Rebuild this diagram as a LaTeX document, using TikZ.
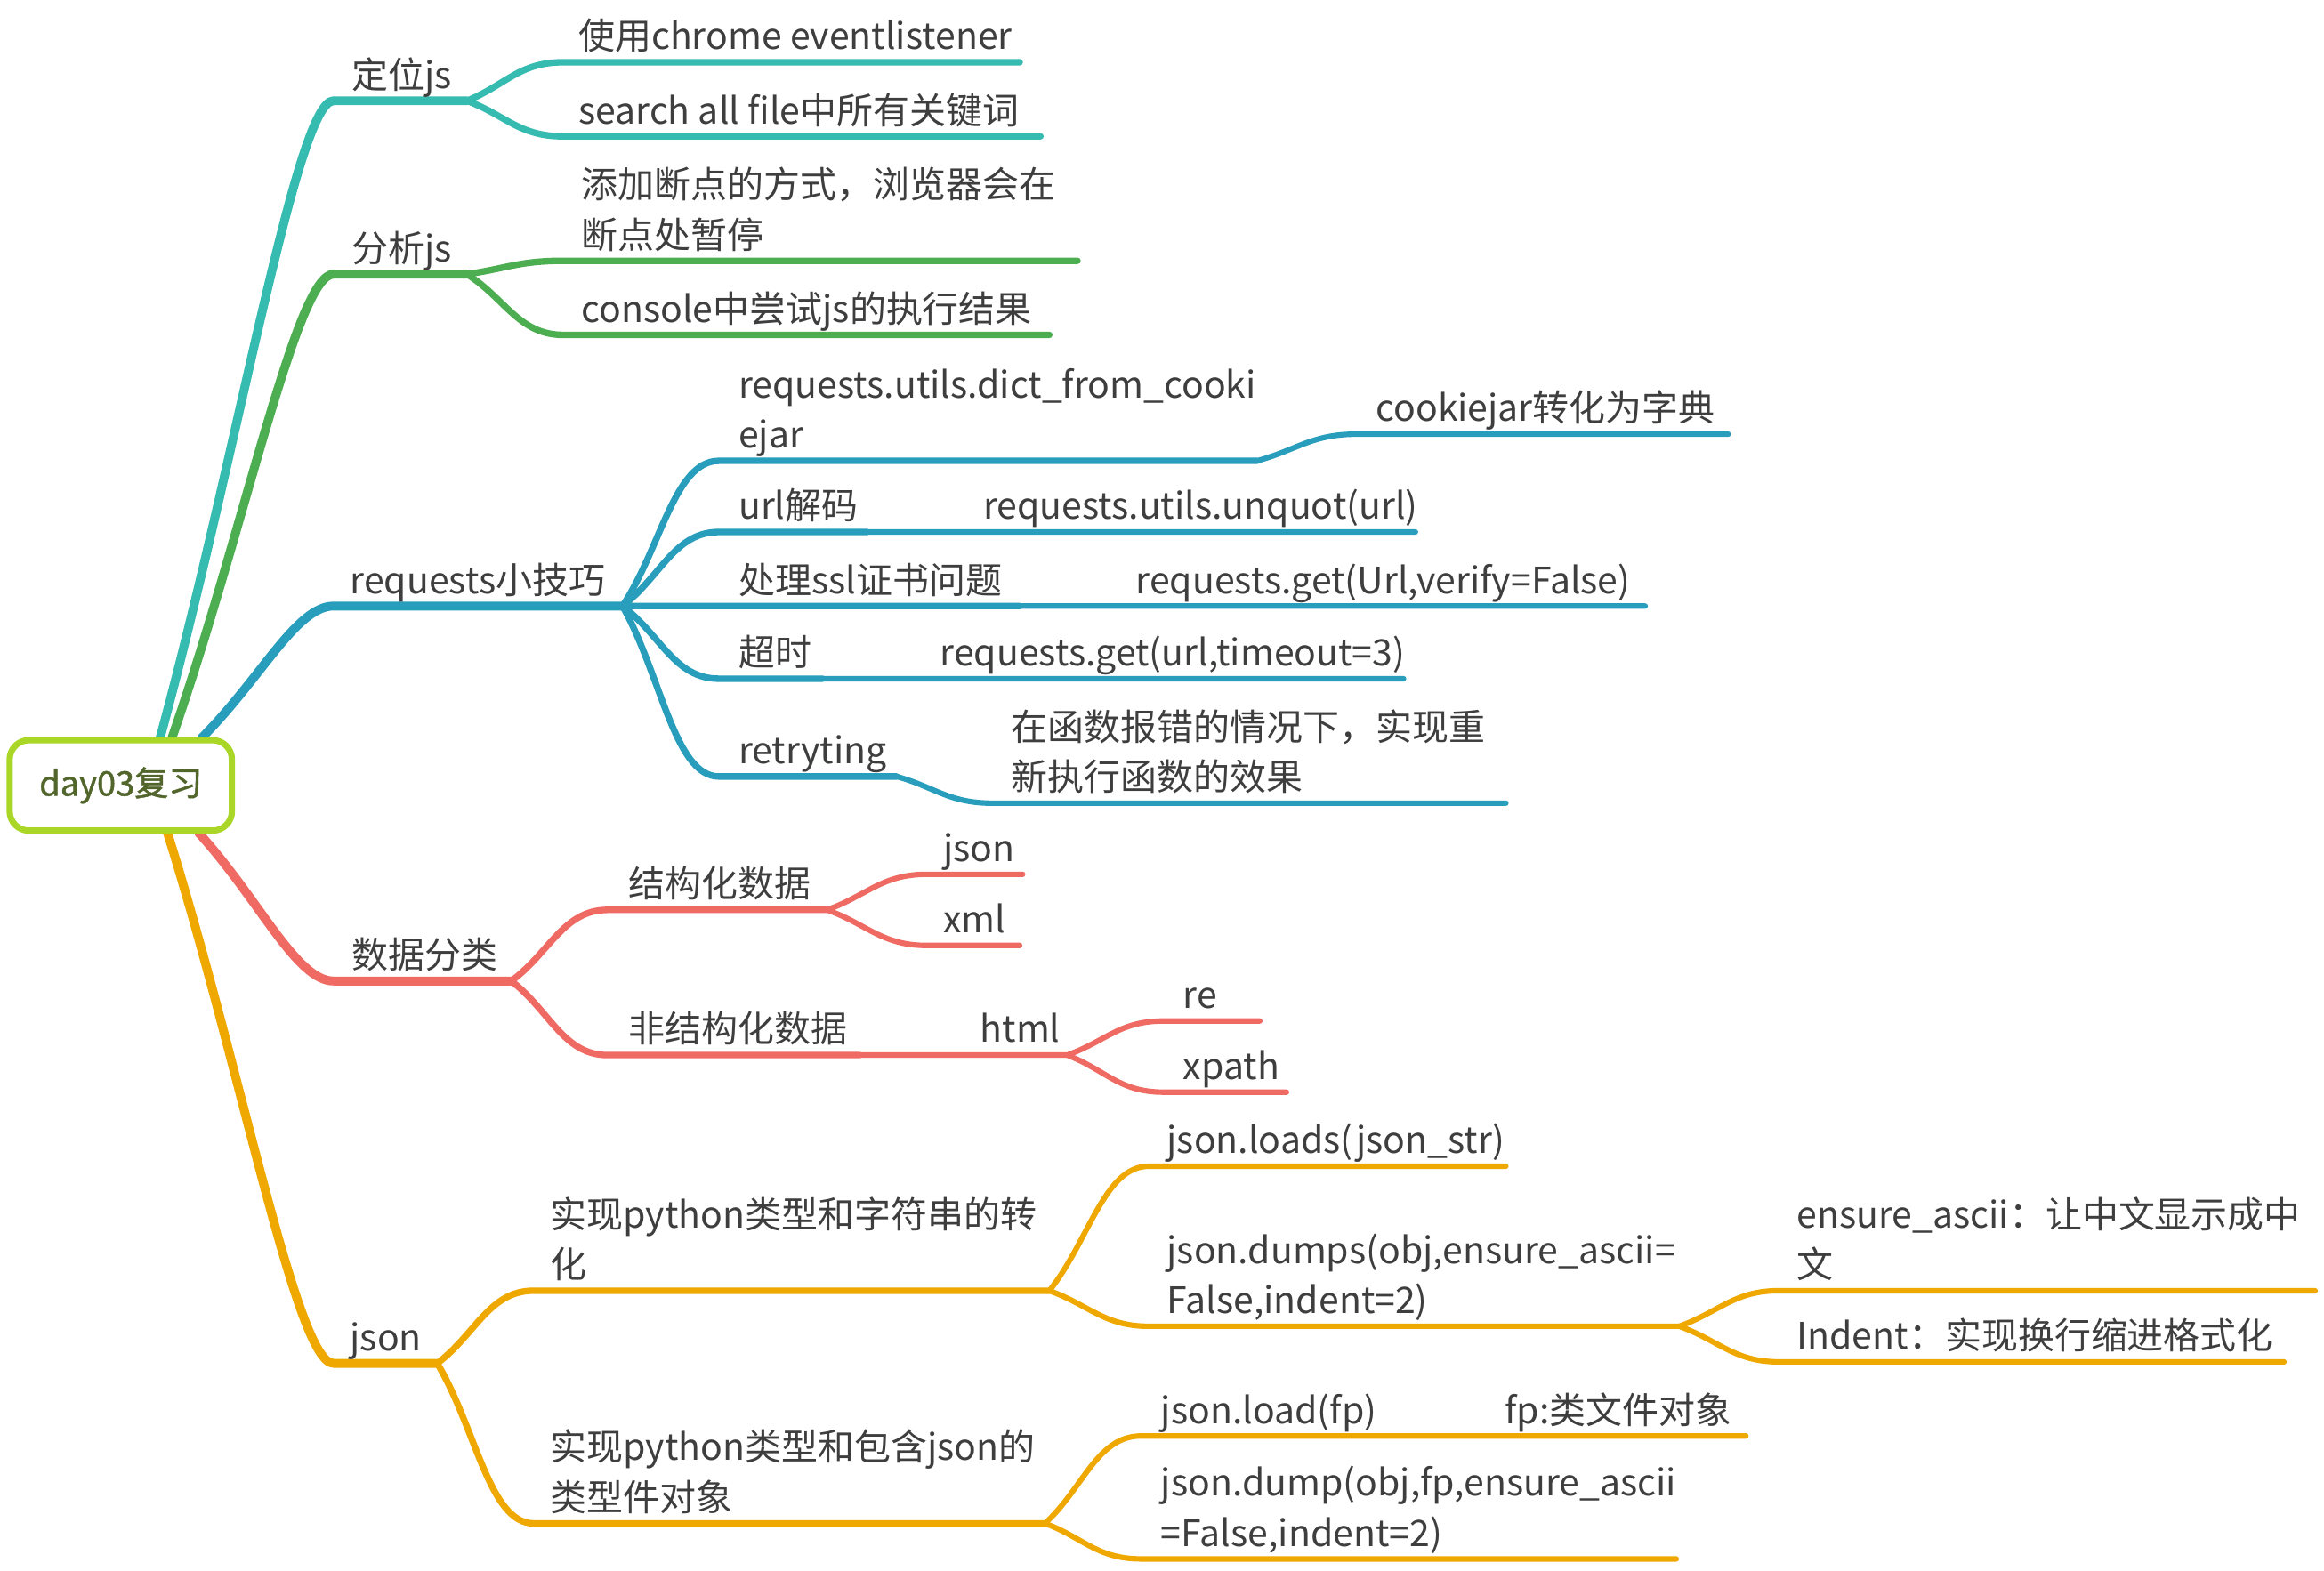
\documentclass[tikz,border=0pt]{standalone}
\usepackage{fontspec}
\setmainfont{Noto Sans CJK SC}
\newfontfamily\rootfont[FakeBold=1.2]{Noto Sans CJK SC}
\usepackage{xcolor}
\usetikzlibrary{calc}
\definecolor{ink}{RGB}{62,62,62}
\definecolor{rootline}{RGB}{170,214,40}
\definecolor{roottext}{RGB}{82,102,44}

\begin{document}
\begin{tikzpicture}[x=0.02cm,y=-0.02cm,
    lvlone/.style={line width=3.4pt,line cap=round,line join=round},
    lvltwo/.style={line width=2.5pt,line cap=round,line join=round},
    lvlthree/.style={line width=2.1pt,line cap=round,line join=round},
    txt/.style={anchor=base west,inner sep=0pt,text=ink,align=left,
      font=\fontsize{14pt}{19.3pt}\selectfont},
    rootbox/.style={draw=rootline,line width=2.4pt,fill=white,rounded corners=0.26cm,
      minimum width=3cm,minimum height=1.22cm,text=roottext,
      font=\rootfont\fontsize{13pt}{15pt}\selectfont}]

    % Define colours of the five main branches
    \definecolor{bteal}{RGB}{54,187,176}
    \definecolor{bgreen}{RGB}{76,174,80}
    \definecolor{bblue}{RGB}{40,157,188}
    \definecolor{bred}{RGB}{238,106,98}
    \definecolor{borange}{RGB}{238,168,0}

    \useasboundingbox (0,0) rectangle (1568,1060);

    % Start and end of every underline
    \foreach \n/\xs/\xe/\y in {loc/225/315/68, ana/225/315/185, req/225/420/409,
        data/225/345/662, json/225/295/920,
        loc1/380/688/42, loc2/380/702/92, ana1/380/727/176, ana2/380/708/226,
        req1/485/848/311, req1a/915/1166/293, req2/485/585/359, req2a/650/955/359,
        req3/485/688/409, req3a/753/1110/409, req4/485/555/458, req4a/620/947/458,
        req5/485/605/524, req5a/670/1016/542,
        data1/410/558/614, data1a/625/690/590, data1b/625/688/638,
        data2/410/580/712, data2a/648/720/712, re/785/850/689, xpath/785/868/737,
        json1/360/708/871, json1a/775/1016/787, json1b/775/1133/895,
        json1b1/1200/1562/871, json1b2/1200/1541/919,
        json2/360/705/1028, json2a/770/935/969, json2a1/1000/1178/969, json2b/770/1131/1052} {
        \coordinate (\n-s) at (\xs,\y);
        \coordinate (\n-e) at (\xe,\y);
    }

    % Where the main branches leave the root
    \coordinate (tealroot) at (108,498);
    \coordinate (greenroot) at (116,498);
    \coordinate (blueroot) at (136,498);
    \coordinate (redroot) at (134,562);
    \coordinate (orangeroot) at (113,562);

    % Main branches
    \foreach \a/\b/\c in {tealroot/loc/bteal, greenroot/ana/bgreen, blueroot/req/bblue,
        redroot/data/bred, orangeroot/json/borange}
        \draw[lvlone,\c] (\a) .. controls ($(\a)!0.45!(\b-s)$) and ($(\b-s)+(-25,0)$) .. (\b-s) -- (\b-e);

    % Sub branches
    \foreach \a/\b/\c/\w in {loc/loc1/bteal/lvltwo, loc/loc2/bteal/lvltwo,
        ana/ana1/bgreen/lvltwo, ana/ana2/bgreen/lvltwo,
        req/req1/bblue/lvltwo, req/req2/bblue/lvltwo, req/req3/bblue/lvltwo,
        req/req4/bblue/lvltwo, req/req5/bblue/lvltwo,
        req1/req1a/bblue/lvlthree, req2/req2a/bblue/lvlthree, req3/req3a/bblue/lvlthree,
        req4/req4a/bblue/lvlthree, req5/req5a/bblue/lvlthree,
        data/data1/bred/lvltwo, data/data2/bred/lvltwo,
        data1/data1a/bred/lvlthree, data1/data1b/bred/lvlthree, data2/data2a/bred/lvlthree,
        data2a/re/bred/lvlthree, data2a/xpath/bred/lvlthree,
        json/json1/borange/lvltwo, json/json2/borange/lvltwo,
        json1/json1a/borange/lvlthree, json1/json1b/borange/lvlthree,
        json1b/json1b1/borange/lvlthree, json1b/json1b2/borange/lvlthree,
        json2/json2a/borange/lvlthree, json2a/json2a1/borange/lvlthree,
        json2/json2b/borange/lvlthree}
        \draw[\w,\c] (\a-e) .. controls ($(\a-e)!0.4!(\b-s)$) and ($(\b-s)+(-30,0)$) .. (\b-s) -- (\b-e);

    % Labels of the main branches
    \node[txt] (loc-t) at (237,59.5) {定位js};
    \node[txt] (ana-t) at (237,176.5) {分析js};
    \node[txt] (req-t) at (236,400.5) {requests小技巧};
    \node[txt] (data-t) at (237,653.5) {数据分类};
    \node[txt] (json-t) at (236,911.5) {json};

    % Labels further out (two-line ones sit on their last line)
    \node[txt] (loc1-t) at (390,33.5) {使用chrome eventlistener};
    \node[txt] (loc2-t) at (390,83.5) {search all file中所有关键词};
    \node[txt] (ana1-t) at (392,167.5) {添加断点的方式，浏览器会在\\断点处暂停};
    \node[txt] (ana2-t) at (392,217.5) {console中尝试js的执行结果};
    \node[txt] (req1-t) at (498,302.5) {requests.utils.dict\_from\_cooki\\ejar};
    \node[txt] (req1a-t) at (928,284.5) {cookiejar转化为字典};
    \node[txt] (req2-t) at (498,350.5) {url解码};
    \node[txt] (req2a-t) at (663,350.5) {requests.utils.unquot(url)};
    \node[txt] (req3-t) at (498,400.5) {处理ssl证书问题};
    \node[txt] (req3a-t) at (766,400.5) {requests.get(Url,verify=False)};
    \node[txt] (req4-t) at (498,449.5) {超时};
    \node[txt] (req4a-t) at (634,449.5) {requests.get(url,timeout=3)};
    \node[txt] (req5-t) at (498,515.5) {retryting};
    \node[txt] (req5a-t) at (682,533.5) {在函数报错的情况下，实现重\\新执行函数的效果};
    \node[txt] (data1-t) at (424,605.5) {结构化数据};
    \node[txt] (data1a-t) at (636,581.5) {json};
    \node[txt] (data1b-t) at (636,629.5) {xml};
    \node[txt] (data2-t) at (424,703.5) {非结构化数据};
    \node[txt] (data2a-t) at (661,703.5) {html};
    \node[txt] (re-t) at (798,680.5) {re};
    \node[txt] (xpath-t) at (798,728.5) {xpath};
    \node[txt] (json1-t) at (371,862.5) {实现python类型和字符串的转\\化};
    \node[txt] (json1a-t) at (787,778.5) {json.loads(json\_str)};
    \node[txt] (json1b-t) at (787,886.5) {json.dumps(obj,ensure\_ascii=\\False,indent=2)};
    \node[txt] (json1b1-t) at (1212,862.5) {ensure\_ascii：让中文显示成中\\文};
    \node[txt] (json1b2-t) at (1212,910.5) {Indent：实现换行缩进格式化};
    \node[txt] (json2-t) at (371,1019.5) {实现python类型和包含json的\\类型件对象};
    \node[txt] (json2a-t) at (783,960.5) {json.load(fp)};
    \node[txt] (json2a1-t) at (1015,960.5) {fp:类文件对象};
    \node[txt] (json2b-t) at (783,1043.5) {json.dump(obj,fp,ensure\_ascii\\=False,indent=2)};

    % Root on top of the branch ends
    \node[rootbox] (root) at (81.5,530) {day03复习};
\end{tikzpicture}
\end{document}
